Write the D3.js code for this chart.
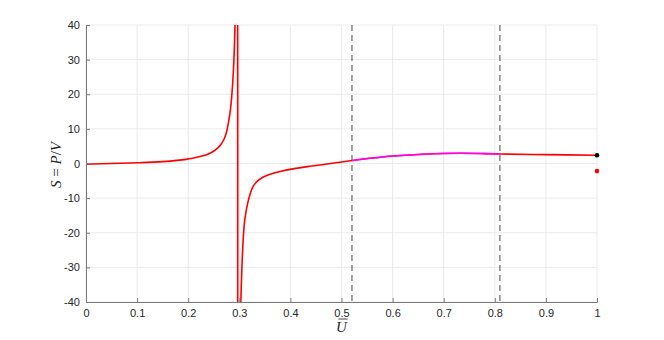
<!DOCTYPE html>
<html>
<head>
<meta charset="utf-8">
<script src="https://cdnjs.cloudflare.com/ajax/libs/d3/7.8.5/d3.min.js"></script>
<style>
  body{margin:0;background:#fff;}
  svg{display:block;}
  .tick text{font-family:"Liberation Sans",Arial,sans-serif;font-size:11px;fill:#262626;}
</style>
</head>
<body>
<svg id="chart"></svg>
<script>
// S = P/V against U-bar
var curveU=[0,0.05,0.1,0.15,0.196,0.225,0.237,0.248,0.258,0.264,0.27,0.274,0.279,0.283,0.287,0.29,0.2916,0.294,0.2955,0.2965,
            0.2972,0.2985,0.301,0.303,0.308,0.311,0.318,0.327,0.337,0.347,0.36,0.38,0.405,0.438,0.471,0.5,0.5205,
            0.536,0.601,0.667,0.732,0.77,0.81,0.9,1];
var curveS=[-0.2,0,0.2,0.55,1.2,2.1,2.6,3.4,4.5,5.5,7,8.5,12,16,23,32,40,60,100,300,
            -300,-150,-60,-40,-21,-16,-10.5,-6.6,-4.9,-3.9,-3.1,-2.3,-1.55,-0.8,-0.15,0.45,0.85,
            1.15,2.15,2.75,2.95,2.9,2.75,2.55,2.4];
var bandU=[0.5205,0.81];        // dashed markers, magenta part in between
var dotU=[1,1];
var dotS=[2.4,-2.2];
var dotColor=["#000000","#ff0000"];
var xTicks=[0,0.1,0.2,0.3,0.4,0.5,0.6,0.7,0.8,0.9,1];
var yTicks=[-40,-30,-20,-10,0,10,20,30,40];

var W=664,H=340;
var L=86,R=597,T=25,B=302;

var svg=d3.select("#chart").attr("width",W).attr("height",H);

var x=d3.scaleLinear().domain([0,1]).range([L,R]);
var y=d3.scaleLinear().domain([-40,40]).range([B,T]);

// grid
var grid=svg.append("g").attr("class","grid");
grid.selectAll("line.gx").data(xTicks).enter().append("line")
    .attr("x1",function(d){return x(d)}).attr("x2",function(d){return x(d)})
    .attr("y1",T).attr("y2",B)
    .attr("stroke","#ebebeb").attr("stroke-width",1);
grid.selectAll("line.gy").data(yTicks).enter().append("line")
    .attr("x1",L).attr("x2",R)
    .attr("y1",function(d){return y(d)}).attr("y2",function(d){return y(d)})
    .attr("stroke","#ebebeb").attr("stroke-width",1);

// dashed markers
svg.append("g").selectAll("line").data(bandU).enter().append("line")
    .attr("x1",function(d){return x(d)}).attr("x2",function(d){return x(d)})
    .attr("y1",T).attr("y2",B)
    .attr("stroke","#666").attr("stroke-width",1.2).attr("stroke-dasharray","6,4");

var defs=svg.append("defs");
defs.append("clipPath").attr("id","clip").append("rect")
    .attr("x",L).attr("y",T).attr("width",R-L).attr("height",B-T);
defs.append("clipPath").attr("id","clipBand").append("rect")
    .attr("x",x(bandU[0])).attr("y",T).attr("width",x(bandU[1])-x(bandU[0])).attr("height",B-T);

var pts=curveU.map(function(u,i){return [u,curveS[i]]});
// split at the pole: smooth branches, straight jump between them
var jump=0;
for(var i=1;i<pts.length;i++){ if(pts[i-1][1]>100 && pts[i][1]<-100){ jump=i; } }
var branches=[pts.slice(0,jump),pts.slice(jump)];
var smooth=d3.line().x(function(d){return x(d[0])}).y(function(d){return y(d[1])})
    .curve(d3.curveCatmullRom.alpha(0.5));
var straight=d3.line().x(function(d){return x(d[0])}).y(function(d){return y(d[1])});

function drawCurve(g,color){
    branches.forEach(function(b){
        g.append("path").datum(b).attr("d",smooth).attr("fill","none")
            .attr("stroke",color).attr("stroke-width",1.6);
    });
    g.append("path").datum([pts[jump-1],pts[jump]]).attr("d",straight).attr("fill","none")
        .attr("stroke",color).attr("stroke-width",1.6);
}
drawCurve(svg.append("g").attr("clip-path","url(#clip)"),"#ff0000");
drawCurve(svg.append("g").attr("clip-path","url(#clipBand)"),"#ff00ff");

// axes (ticks inward like matlab)
var xa=svg.append("g").attr("transform","translate(0,"+B+")")
    .call(d3.axisBottom(x).tickValues(xTicks).tickSize(-4).tickPadding(7)
        .tickFormat(function(d){return String(d)}));
var ya=svg.append("g").attr("transform","translate("+L+",0)")
    .call(d3.axisLeft(y).tickValues(yTicks).tickSize(-4).tickPadding(6)
        .tickFormat(function(d){return String(d)}));
[xa,ya].forEach(function(a){
    a.select(".domain").attr("stroke","#7a7a7a");
    a.selectAll(".tick line").attr("stroke","#7a7a7a");
});

// dots at U=1
svg.append("g").selectAll("circle").data(dotU).enter().append("circle")
    .attr("cx",function(d){return x(d)})
    .attr("cy",function(d,i){return y(dotS[i])})
    .attr("r",2.3)
    .attr("fill",function(d,i){return dotColor[i]});

// labels
var yl=svg.append("text")
    .attr("transform","translate(61,165) rotate(-90)")
    .attr("text-anchor","middle")
    .attr("font-family","'Liberation Serif','Times New Roman',serif")
    .attr("font-size",15).attr("fill","#262626");
yl.append("tspan").attr("font-style","italic").text("S");
yl.append("tspan").text(" = ");
yl.append("tspan").attr("font-style","italic").text("P");
yl.append("tspan").text("/");
yl.append("tspan").attr("font-style","italic").text("V");

svg.append("text").attr("x",x(0.5)).attr("y",332)
    .attr("text-anchor","middle")
    .attr("font-family","'Liberation Serif','Times New Roman',serif")
    .attr("font-style","italic").attr("font-size",15).attr("fill","#262626")
    .text("U");
svg.append("line").attr("x1",x(0.5)-3).attr("x2",x(0.5)+6)
    .attr("y1",319).attr("y2",319).attr("stroke","#262626").attr("stroke-width",0.9);
</script>
</body>
</html>
